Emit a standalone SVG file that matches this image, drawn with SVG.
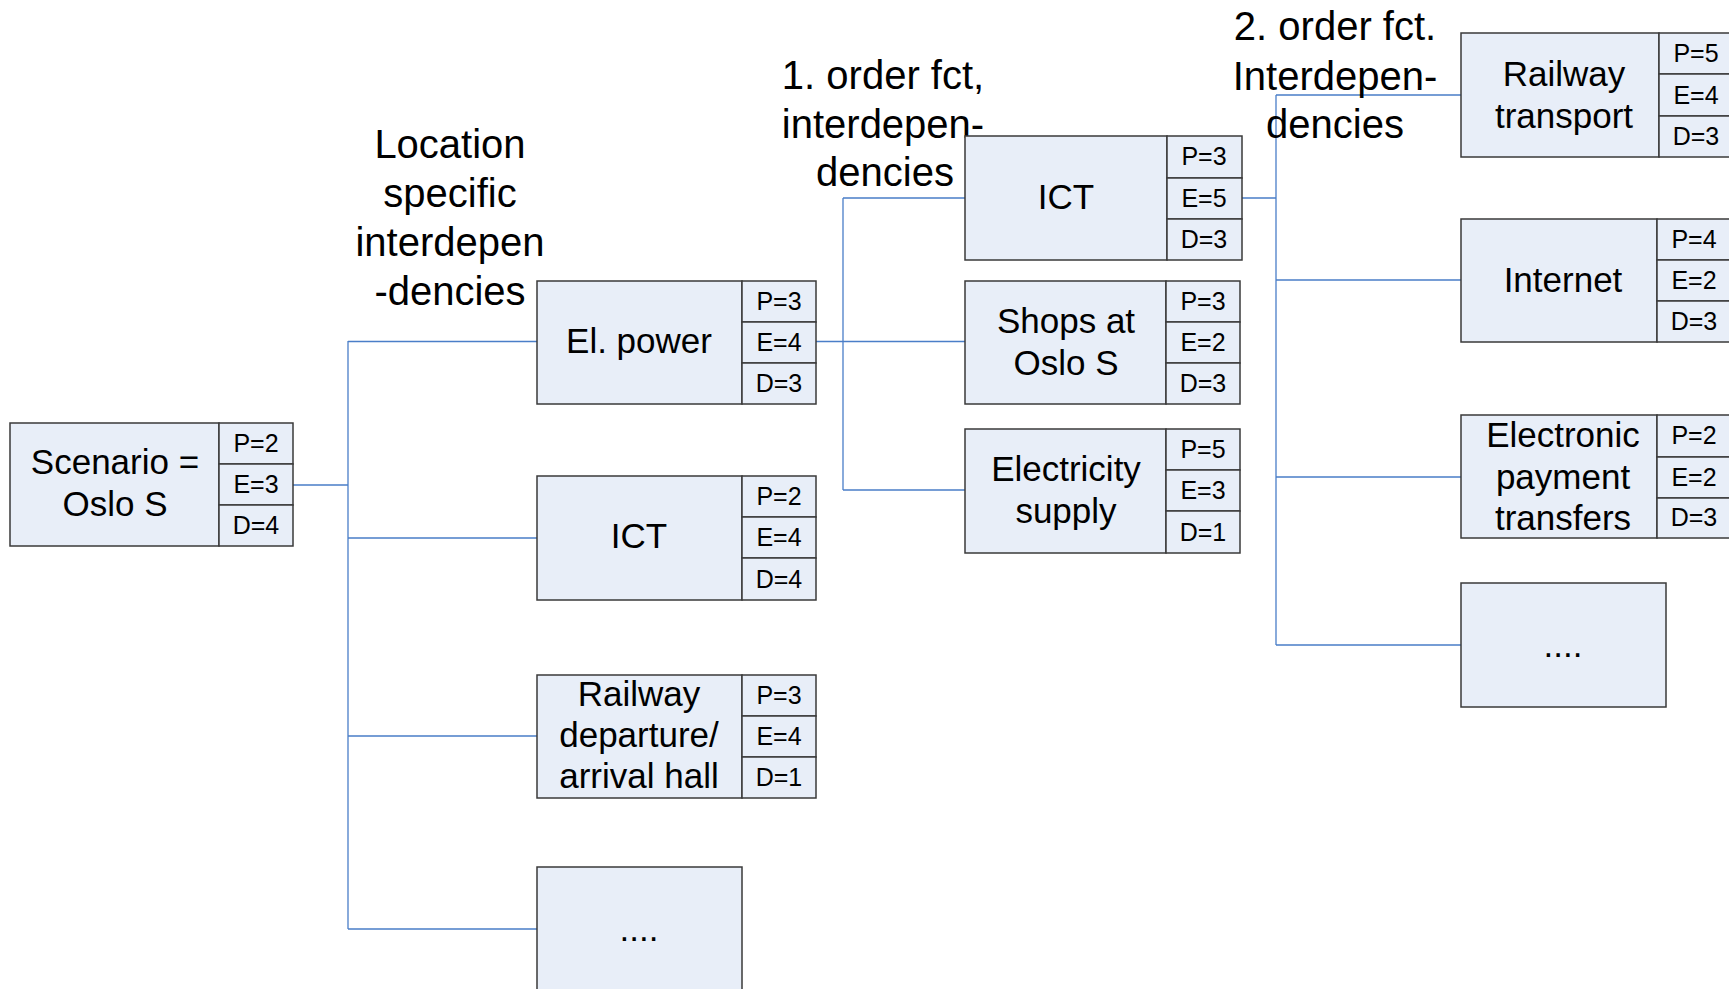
<svg xmlns="http://www.w3.org/2000/svg" width="1729" height="989" viewBox="0 0 1729 989">
<style>
.bx{fill:#E8EEF8;stroke:#3A3A3A;stroke-width:1.5}
.mt{font-family:"Liberation Sans",Arial,sans-serif;font-size:35px;fill:#000;text-anchor:middle}
.st{font-family:"Liberation Sans",Arial,sans-serif;font-size:25px;fill:#000;text-anchor:middle}
.hd{font-family:"Liberation Sans",Arial,sans-serif;font-size:40px;fill:#000;text-anchor:middle}
.cn{fill:none;stroke:#4A7EC8;stroke-width:1.3}
</style>
<rect width="1729" height="989" fill="#fff"/>
<g id="connectors" class="cn">
<path d="M293,485H348M348,341V929M348,341.5H537M348,538H537M348,736H537M348,929H537"/>
<path d="M816,341.5H843M843,198V490M843,198H965M843,341.5H965M843,490H965"/>
<path d="M1242,198H1276M1276,95V645M1276,95H1461M1276,280H1461M1276,477H1461M1276,645H1461"/>
</g>
<g id="labels">
<text class="hd" x="450" y="158">Location</text>
<text class="hd" x="450" y="207">specific</text>
<text class="hd" x="450" y="256">interdepen</text>
<text class="hd" x="450" y="305">-dencies</text>
<text class="hd" x="883" y="89">1. order fct,</text>
<text class="hd" x="883" y="138">interdepen-</text>
<text class="hd" x="885" y="186">dencies</text>
<text class="hd" x="1335" y="40">2. order fct.</text>
<text class="hd" x="1335" y="90">Interdepen-</text>
<text class="hd" x="1335" y="138">dencies</text>
</g>
<g id="scenario">
<rect class="bx" x="10" y="423" width="209" height="123"/>
<rect class="bx" x="219" y="423" width="74" height="41"/>
<rect class="bx" x="219" y="464" width="74" height="41"/>
<rect class="bx" x="219" y="505" width="74" height="41"/>
<text class="mt" x="115" y="474">Scenario =</text>
<text class="mt" x="115" y="516">Oslo S</text>
<text class="st" x="256" y="452">P=2</text>
<text class="st" x="256" y="493">E=3</text>
<text class="st" x="256" y="534">D=4</text>
</g>
<g id="el-power">
<rect class="bx" x="537" y="281" width="205" height="123"/>
<rect class="bx" x="742" y="281" width="74" height="41"/>
<rect class="bx" x="742" y="322" width="74" height="41"/>
<rect class="bx" x="742" y="363" width="74" height="41"/>
<text class="mt" x="639" y="353">El. power</text>
<text class="st" x="779" y="310">P=3</text>
<text class="st" x="779" y="351">E=4</text>
<text class="st" x="779" y="392">D=3</text>
</g>
<g id="ict1">
<rect class="bx" x="537" y="476" width="205" height="124"/>
<rect class="bx" x="742" y="476" width="74" height="41"/>
<rect class="bx" x="742" y="517" width="74" height="41"/>
<rect class="bx" x="742" y="558" width="74" height="42"/>
<text class="mt" x="639" y="548">ICT</text>
<text class="st" x="779" y="505">P=2</text>
<text class="st" x="779" y="546">E=4</text>
<text class="st" x="779" y="588">D=4</text>
</g>
<g id="railway-hall">
<rect class="bx" x="537" y="675" width="205" height="123"/>
<rect class="bx" x="742" y="675" width="74" height="41"/>
<rect class="bx" x="742" y="716" width="74" height="41"/>
<rect class="bx" x="742" y="757" width="74" height="41"/>
<text class="mt" x="639" y="706">Railway</text>
<text class="mt" x="639" y="747">departure/</text>
<text class="mt" x="639" y="788">arrival hall</text>
<text class="st" x="779" y="704">P=3</text>
<text class="st" x="779" y="745">E=4</text>
<text class="st" x="779" y="786">D=1</text>
</g>
<g id="more1">
<rect class="bx" x="537" y="867" width="205" height="124"/>
<text class="mt" x="639" y="941">....</text>
</g>
<g id="ict2">
<rect class="bx" x="965" y="136" width="202" height="124"/>
<rect class="bx" x="1167" y="136" width="75" height="42"/>
<rect class="bx" x="1167" y="178" width="75" height="41"/>
<rect class="bx" x="1167" y="219" width="75" height="41"/>
<text class="mt" x="1066" y="209">ICT</text>
<text class="st" x="1204" y="165">P=3</text>
<text class="st" x="1204" y="207">E=5</text>
<text class="st" x="1204" y="248">D=3</text>
</g>
<g id="shops">
<rect class="bx" x="965" y="281" width="201" height="123"/>
<rect class="bx" x="1166" y="281" width="74" height="41"/>
<rect class="bx" x="1166" y="322" width="74" height="41"/>
<rect class="bx" x="1166" y="363" width="74" height="41"/>
<text class="mt" x="1066" y="333">Shops at</text>
<text class="mt" x="1066" y="375">Oslo S</text>
<text class="st" x="1203" y="310">P=3</text>
<text class="st" x="1203" y="351">E=2</text>
<text class="st" x="1203" y="392">D=3</text>
</g>
<g id="electricity">
<rect class="bx" x="965" y="429" width="201" height="124"/>
<rect class="bx" x="1166" y="429" width="74" height="41"/>
<rect class="bx" x="1166" y="470" width="74" height="41"/>
<rect class="bx" x="1166" y="511" width="74" height="42"/>
<text class="mt" x="1066" y="481">Electricity</text>
<text class="mt" x="1066" y="523">supply</text>
<text class="st" x="1203" y="458">P=5</text>
<text class="st" x="1203" y="499">E=3</text>
<text class="st" x="1203" y="541">D=1</text>
</g>
<g id="railway-transport">
<rect class="bx" x="1461" y="33" width="198" height="124"/>
<rect class="bx" x="1659" y="33" width="74" height="41"/>
<rect class="bx" x="1659" y="74" width="74" height="42"/>
<rect class="bx" x="1659" y="116" width="74" height="41"/>
<text class="mt" x="1564" y="86">Railway</text>
<text class="mt" x="1564" y="128">transport</text>
<text class="st" x="1696" y="62">P=5</text>
<text class="st" x="1696" y="104">E=4</text>
<text class="st" x="1696" y="145">D=3</text>
</g>
<g id="internet">
<rect class="bx" x="1461" y="219" width="196" height="123"/>
<rect class="bx" x="1657" y="219" width="74" height="41"/>
<rect class="bx" x="1657" y="260" width="74" height="41"/>
<rect class="bx" x="1657" y="301" width="74" height="41"/>
<text class="mt" x="1563" y="292">Internet</text>
<text class="st" x="1694" y="248">P=4</text>
<text class="st" x="1694" y="289">E=2</text>
<text class="st" x="1694" y="330">D=3</text>
</g>
<g id="payment">
<rect class="bx" x="1461" y="415" width="196" height="123"/>
<rect class="bx" x="1657" y="415" width="74" height="42"/>
<rect class="bx" x="1657" y="457" width="74" height="41"/>
<rect class="bx" x="1657" y="498" width="74" height="40"/>
<text class="mt" x="1563" y="447">Electronic</text>
<text class="mt" x="1563" y="489">payment</text>
<text class="mt" x="1563" y="530">transfers</text>
<text class="st" x="1694" y="444">P=2</text>
<text class="st" x="1694" y="486">E=2</text>
<text class="st" x="1694" y="526">D=3</text>
</g>
<g id="more2">
<rect class="bx" x="1461" y="583" width="205" height="124"/>
<text class="mt" x="1563" y="657">....</text>
</g>
</svg>
